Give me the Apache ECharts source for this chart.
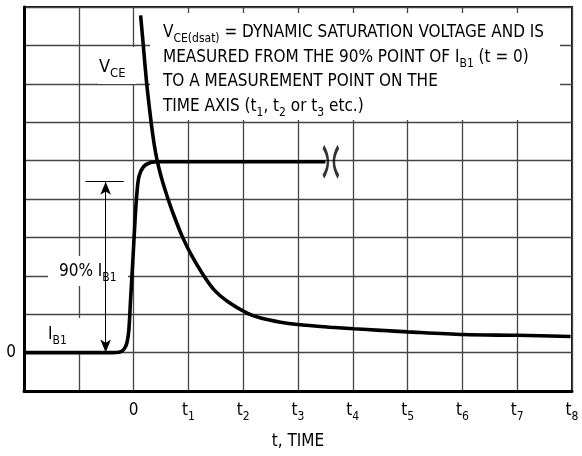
<!DOCTYPE html>
<html>
<head>
<meta charset="utf-8">
<script src="https://cdn.jsdelivr.net/npm/echarts@6/dist/echarts.min.js"></script>
<style>
html,body{margin:0;padding:0;background:#fff;}
#chart{width:582px;height:456px;}
</style>
</head>
<body>
<div id="chart"></div>
<script>
// ---- data ----
const xMin = -2, xMax = 8;
const yMin = -1, yMax = 9;
const timeTickValues = [0, 1, 2, 3, 4, 5, 6, 7, 8];
const timeTickLabels = ['0', 't1', 't2', 't3', 't4', 't5', 't6', 't7', 't8'];
const yTickValues = [0];
const yTickLabels = ['0'];

// base current I_B1 (time, level)
const ib1Time = [-2, -0.38, -0.27, -0.2, -0.146, -0.115, -0.086, -0.055, -0.013, 0.024, 0.055, 0.097, 0.18, 0.31, 0.46, 3.5];
const ib1Level = [0, 0, 0.01, 0.05, 0.16, 0.30, 0.60, 1.38, 2.42, 3.39, 4.06, 4.58, 4.84, 4.95, 4.97, 4.97];

// collector-emitter voltage V_CE (time, level)
const vceTime = [0.128, 0.177, 0.237, 0.292, 0.347, 0.401, 0.456, 0.529, 0.615, 0.730, 0.889, 1.058, 1.277, 1.478, 1.715, 2.080, 2.318, 2.682, 2.993, 3.595, 4.015, 4.507, 5.0, 6.022, 7.007, 7.974];
const vceLevel = [8.78, 8.00, 7.03, 6.33, 5.70, 5.21, 4.84, 4.45, 4.06, 3.59, 3.02, 2.53, 2.01, 1.62, 1.33, 1.02, 0.90, 0.79, 0.73, 0.66, 0.62, 0.58, 0.54, 0.47, 0.45, 0.42];

// annotation anchors (data units)
const ninetyLevel = 4.45;
const arrowTime = -0.51;
const tickFrom = -0.88, tickTo = -0.18;
const breakPoint = [3.6, 4.97];

const FONT = "'Liberation Sans Narrow','Arial Narrow','DejaVu Sans Condensed',sans-serif";
const zip = (a, b) => a.map((v, i) => [v, b[i]]);

const rich = (size, ssize, raise) => ({
  n: {fontFamily: FONT, fontSize: size, color: '#000', verticalAlign: 'bottom', padding: [0, 0, raise, 0]},
  s: {fontFamily: FONT, fontSize: ssize, color: '#000', verticalAlign: 'bottom'}
});

const chart = echarts.init(document.getElementById('chart'), null, {renderer: 'canvas'});

const GRID = {left: 24, right: 10, top: 7, bottom: 65};

function textEl(x, y, text, size, ssize, raise, z) {
  return {
    type: 'text', x: x, y: y, z: z || 6,
    style: {text: text, rich: rich(size, ssize, raise), verticalAlign: 'top', align: 'left'}
  };
}
function box(x, y, w, h, z) {
  return {type: 'rect', shape: {x: x, y: y, width: w, height: h}, style: {fill: '#fff'}, z: z || 1, silent: true};
}

const FS = 17, SFS = 12, RAISE = 4, LH = 24.7;
const noteLines = [
  '{n|V}{s|CE(dsat)}{n| = DYNAMIC SATURATION VOLTAGE AND IS}',
  '{n|MEASURED FROM THE 90% POINT OF I}{s|B1}{n| (t = 0)}',
  '{n|TO A MEASUREMENT POINT ON THE}',
  '{n|TIME AXIS (t}{s|1}{n|, t}{s|2}{n| or t}{s|3}{n| etc.)}'
];

const graphics = [
  box(150, 13, 410, 107, 1),
  box(98, 47, 38, 37, 1),
  box(48, 256, 80, 30, 5),
  box(42, 318, 58, 33, 1)
];
noteLines.forEach((t, i) => graphics.push(textEl(163, 24 + i * LH, t, FS, SFS, RAISE)));
graphics.push(textEl(99, 58, '{n|V}{s|CE}', 18, 13, RAISE));
graphics.push(textEl(59, 263, '{n|90% I}{s|B1}', FS, SFS, RAISE));
graphics.push(textEl(48, 326, '{n|I}{s|B1}', FS, SFS, RAISE));

const option = {
  animation: false,
  backgroundColor: '#fff',
  grid: Object.assign({show: true, borderColor: '#111', borderWidth: 2, backgroundColor: 'transparent'}, GRID),
  xAxis: {
    type: 'value', min: xMin, max: xMax, interval: 1,
    axisLine: {show: true, onZero: false, lineStyle: {color: '#000', width: 3}},
    axisTick: {show: false},
    splitLine: {show: true, lineStyle: {color: '#444', width: 1.3}},
    axisLabel: {
      margin: 11,
      formatter: function (v) {
        const i = timeTickValues.indexOf(v);
        if (i < 0) return '';
        const lab = timeTickLabels[i];
        return lab.length > 1 ? '{n|' + lab[0] + '}{s|' + lab.slice(1) + '}' : '{n|' + lab + '}';
      },
      rich: rich(17, 12, 4)
    },
    name: 't, TIME', nameLocation: 'middle', nameGap: 42,
    nameTextStyle: {fontFamily: FONT, fontSize: 17, color: '#000'}
  },
  yAxis: {
    type: 'value', min: yMin, max: yMax, interval: 1,
    axisLine: {show: true, onZero: false, lineStyle: {color: '#000', width: 3}},
    axisTick: {show: false},
    splitLine: {show: true, lineStyle: {color: '#444', width: 1.3}},
    axisLabel: {
      margin: 8,
      formatter: function (v) {
        const i = yTickValues.indexOf(v);
        return i < 0 ? '' : yTickLabels[i];
      },
      fontFamily: FONT, fontSize: 17, color: '#000'
    }
  },
  graphic: graphics,
  series: [
    {
      name: 'IB1', type: 'line', data: zip(ib1Time, ib1Level), showSymbol: false, symbol: 'none',
      smooth: 0.3,
      lineStyle: {color: '#000', width: 3.6}, z: 3,
      markLine: {
        silent: true, symbol: ['arrow', 'arrow'], symbolSize: [8, 13],
        label: {show: false},
        lineStyle: {color: '#000', width: 1, type: 'solid'},
        data: [
          [{coord: [arrowTime, ninetyLevel]}, {coord: [arrowTime, 0]}],
          [{coord: [tickFrom, ninetyLevel], symbol: 'none'}, {coord: [tickTo, ninetyLevel], symbol: 'none'}]
        ]
      }
    },
    {
      name: 'VCE', type: 'line', data: zip(vceTime, vceLevel), showSymbol: false, symbol: 'none',
      smooth: 0.3,
      lineStyle: {color: '#000', width: 3.6}, z: 3
    },
    {
      name: 'break', type: 'scatter', data: [breakPoint], z: 4,
      symbol: 'path://M0,0 Q9,15 0,30 M15,0 Q6,15 15,30', symbolSize: [15, 30],
      itemStyle: {color: 'none', borderColor: '#000', borderWidth: 3.5}
    }
  ]
};
chart.setOption(option);
</script>
</body>
</html>
